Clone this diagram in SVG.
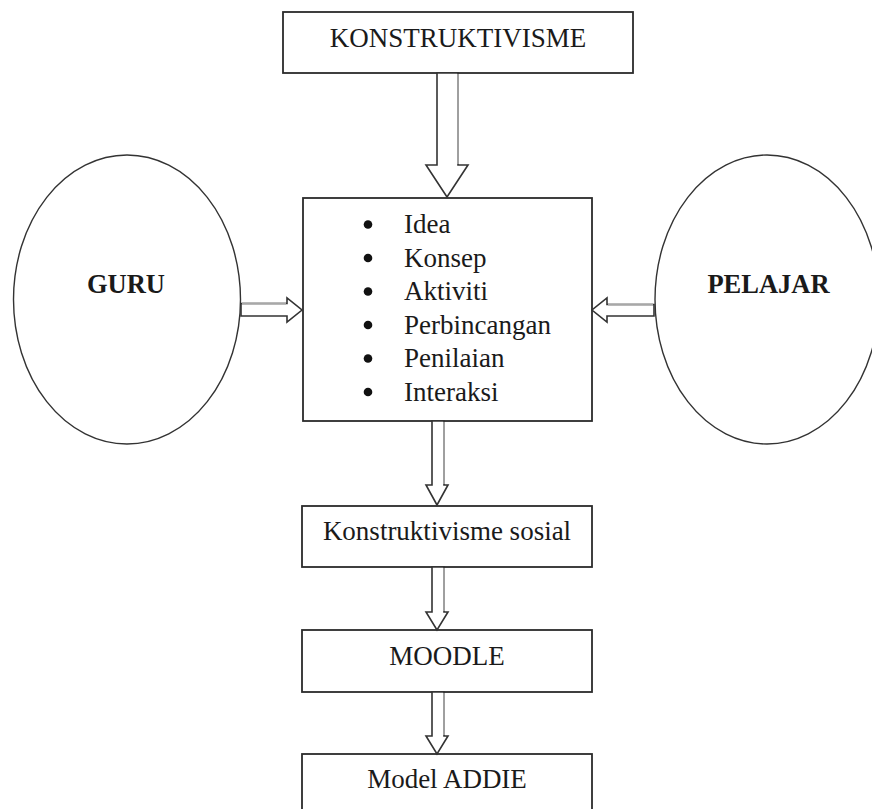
<svg xmlns="http://www.w3.org/2000/svg" width="872" height="809" viewBox="0 0 872 809">
<style>
.box{fill:#fff;stroke:#2b2b2b;stroke-width:1.8}
.ell{fill:#fff;stroke:#333;stroke-width:1.4}
.arr{fill:#fff;stroke:#333;stroke-width:1.6;stroke-linejoin:miter}
.lite{stroke:#a8a8a8;stroke-width:1.8;fill:none}
.t{font-family:"Liberation Serif","Times New Roman",serif;font-size:27px;fill:#1a1a1a}
.tc{text-anchor:middle}
.b{font-weight:bold;font-size:26.5px}
</style>
<rect width="872" height="809" fill="#fff"/>
<g id="konstruktivisme">
<rect class="box" x="283" y="12" width="350" height="61"/>
<text class="t tc" x="458" y="47" font-size="27.5">KONSTRUKTIVISME</text>
</g>
<g id="guru">
<ellipse class="ell" cx="127" cy="299.5" rx="113.5" ry="144.5"/>
<text class="t tc b" x="126" y="293">GURU</text>
</g>
<g id="pelajar">
<ellipse class="ell" cx="767" cy="299.5" rx="112" ry="144.5"/>
<text class="t tc b" x="768.5" y="293">PELAJAR</text>
</g>
<g id="konsep">
<rect class="box" x="303" y="198" width="289" height="223"/>
<g fill="#111">
<circle cx="368" cy="224.5" r="4.3"/>
<circle cx="368" cy="258" r="4.3"/>
<circle cx="368" cy="291.5" r="4.3"/>
<circle cx="368" cy="325" r="4.3"/>
<circle cx="368" cy="358.5" r="4.3"/>
<circle cx="368" cy="392" r="4.3"/>
</g>
<text class="t" x="404" y="233">Idea</text>
<text class="t" x="404" y="266.5">Konsep</text>
<text class="t" x="404" y="300">Aktiviti</text>
<text class="t" x="404" y="333.5">Perbincangan</text>
<text class="t" x="404" y="367">Penilaian</text>
<text class="t" x="404" y="400.5">Interaksi</text>
</g>
<g id="sosial">
<rect class="box" x="302" y="506" width="290" height="61"/>
<text class="t tc" x="447" y="540">Konstruktivisme sosial</text>
</g>
<g id="moodle">
<rect class="box" x="302" y="630" width="290" height="62"/>
<text class="t tc" x="447" y="665">MOODLE</text>
</g>
<g id="addie">
<rect class="box" x="302" y="754" width="290" height="70"/>
<text class="t tc" x="447" y="788">Model ADDIE</text>
</g>
<g id="connectors">
<polygon class="arr" points="437,73 437,165 426,165 447,197 468,165 458,165 458,73"/>
<line class="lite" x1="458" y1="74" x2="458" y2="164"/>
<polygon class="arr" points="241,303.5 287,303.5 287,298 302,310 287,322 287,316 241,316"/>
<line class="lite" x1="242" y1="303.5" x2="286" y2="303.5"/>
<polygon class="arr" points="654,304.5 607,304.5 607,298 592,310 607,322 607,316 654,316"/>
<line class="lite" x1="608" y1="304.5" x2="653" y2="304.5"/>
<polygon class="arr" points="432,421 432,485 426,485 437,505 448,485 444,485 444,421"/>
<line class="lite" x1="444" y1="422" x2="444" y2="484"/>
<polygon class="arr" points="432,567 432,612 426,612 437,630 448,612 444,612 444,567"/>
<line class="lite" x1="444" y1="568" x2="444" y2="611"/>
<polygon class="arr" points="432,692 432,736 426,736 437,754 448,736 444,736 444,692"/>
<line class="lite" x1="444" y1="693" x2="444" y2="735"/>
</g>
</svg>
